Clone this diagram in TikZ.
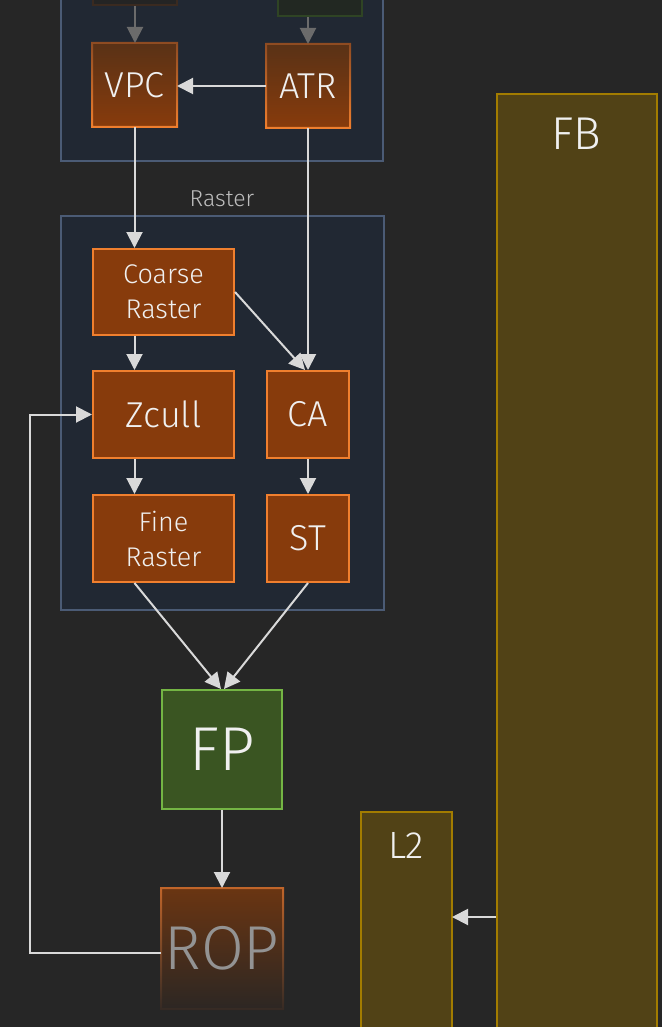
\documentclass[tikz,border=0pt]{standalone}
\usepackage{fontspec}
\IfFontExistsTF{Fira Sans Light}{\setmainfont{Fira Sans Light}}{\setmainfont{Fira Sans}}
\usetikzlibrary{arrows.meta,calc}
\definecolor{bg}{HTML}{262626}
\definecolor{clfill}{HTML}{212833}
\definecolor{cldraw}{HTML}{4B5B75}
\definecolor{orfill}{HTML}{873B0C}
\definecolor{ordraw}{HTML}{F07F2E}
\definecolor{ortop}{HTML}{5A3216}
\definecolor{ordrawtop}{HTML}{8E4B22}
\definecolor{fpfill}{HTML}{3A5522}
\definecolor{fpdraw}{HTML}{74B544}
\definecolor{memfill}{HTML}{514216}
\definecolor{memdraw}{HTML}{A27C00}
\definecolor{arrowc}{HTML}{D9D9D9}
\definecolor{dimarrow}{HTML}{6B6B6B}
\definecolor{txt}{HTML}{F0F0F0}
\definecolor{labtxt}{HTML}{BDBDBD}
\definecolor{roptop}{HTML}{6A3512}
\definecolor{ropbot}{HTML}{2D2723}
\definecolor{ropdrawtop}{HTML}{C0652A}
\definecolor{ropdrawbot}{HTML}{352A24}
\definecolor{roptxt}{HTML}{939393}
\definecolor{fadeordraw}{HTML}{3A2A20}
\definecolor{fadeorfill}{HTML}{242424}
\definecolor{fadegrdraw}{HTML}{2F4424}
\definecolor{fadegrfill}{HTML}{222822}
\begin{document}
\begin{tikzpicture}[x=1pt,y=-1pt,
  box/.style={rectangle, inner sep=0pt, line width=2pt, text=txt, align=center},
  orbox/.style={box, draw=ordraw, fill=orfill},
  cluster/.style={draw=cldraw, fill=clfill, line width=2pt},
  mem/.style={draw=memdraw, fill=memfill, line width=2pt},
  arr/.style={draw=arrowc, line width=2pt, -{Triangle[length=16pt,width=16pt]}},
  dimarr/.style={draw=dimarrow, line width=2pt, -{Triangle[length=16pt,width=16pt]}},
  big/.style={font=\fontsize{36}{40}\selectfont},
  two/.style={font=\fontsize{27}{35}\selectfont},
  huge/.style={font=\fontsize{62}{66}\selectfont}]
\useasboundingbox (0,0) rectangle (662,1027);
\fill[bg] (0,0) rectangle (662,1027);
\clip (0,0) rectangle (662,1027);

% clusters
\draw[cluster] (61,-20) rectangle (383,161);
\draw[cluster] (61,216) rectangle (384,610);
\node[text=labtxt, font=\fontsize{23}{26}\selectfont] (rasterlab) at (222,199) {Raster};

% faded boxes above
\draw[draw=fadeordraw, fill=fadeorfill, line width=2pt] (93,-60) rectangle (177,5);
\draw[draw=fadegrdraw, fill=fadegrfill, line width=2pt] (278,-60) rectangle (362,16);
\coordinate (topl) at (135,6);
\coordinate (topr) at (308,17);

% memory
\draw[mem] (361,812) rectangle (452,1060);
\draw[mem] (497,94) rectangle (657,1060);
\coordinate (L2east) at (452,917);
\coordinate (FBwest) at (496,917);
\node[text=txt, font=\fontsize{38}{40}\selectfont] (l2lab) at (406,845) {L2};
\node[text=txt, font=\fontsize{46}{50}\selectfont] (fblab) at (576.5,134) {FB};

% top nodes with gradient
\node[box, minimum width=83pt, minimum height=82pt, top color=ortop, bottom color=orfill] (VPC) at (134.5,85) {};
\node[box, minimum width=82pt, minimum height=82pt, top color=ortop, bottom color=orfill] (ATR) at (308,86) {};
\foreach \n in {VPC,ATR}{
  \shade[top color=ordrawtop, bottom color=ordraw, even odd rule]
    ($(\n.south west)+(-1,1)$) rectangle ($(\n.north east)+(1,-1)$)
    ($(\n.south west)+(1,-1)$) rectangle ($(\n.north east)+(-1,1)$);
}
\node[text=txt, big] at (VPC) {VPC};
\node[text=txt, big] at (ATR) {ATR};

% raster nodes
\node[orbox, two, minimum width=141pt, minimum height=86pt] (CR) at (163.5,292) {Coarse\\Raster};
\node[orbox, big, minimum width=141pt, minimum height=87pt] (ZC) at (163.5,414.5) {Zcull};
\node[orbox, big, minimum width=82pt, minimum height=87pt] (CA) at (308,414.5) {CA};
\node[orbox, two, minimum width=141pt, minimum height=87pt] (FR) at (163.5,538.5) {Fine\\Raster};
\node[orbox, big, minimum width=82pt, minimum height=87pt] (ST) at (308,538.5) {ST};

% FP
\node[box, huge, draw=fpdraw, fill=fpfill, minimum width=120pt, minimum height=119pt] (FP) at (222,749.5) {FP};

% ROP
\node[box, minimum width=120pt, minimum height=119pt, top color=roptop, bottom color=ropbot] (ROP) at (222,948.5) {};
\shade[top color=ropdrawtop, bottom color=ropdrawbot, even odd rule]
  ($(ROP.south west)+(-1,1)$) rectangle ($(ROP.north east)+(1,-1)$)
  ($(ROP.south west)+(1,-1)$) rectangle ($(ROP.north east)+(-1,1)$);
\node[text=roptxt, huge] at (ROP) {ROP};

% arrows
\draw[dimarr] (topl) -- (topl |- VPC.north);
\draw[dimarr] (topr) -- (topr |- ATR.north);
\draw[arr] (ATR.west) -- (ATR.west -| VPC.east);
\draw[arr] (VPC.south) -- (VPC.south |- CR.north);
\draw[arr] (ATR.south) -- (ATR.south |- CA.north);
\draw[arr] (CR.east) -- ($(CA.north)+(-3,0)$);
\draw[arr] (VPC.south |- CR.south) -- (VPC.south |- ZC.north);
\draw[arr] (VPC.south |- ZC.south) -- (VPC.south |- FR.north);
\draw[arr] (CA.south) -- (ST.north);
\draw[arr] (VPC.south |- FR.south) -- ($(FP.north)+(-1,0)$);
\draw[arr] (ST.south) -- ($(FP.north)+(2,0)$);
\draw[arr] (FP.south) -- (ROP.north);
\draw[arr] ($(ROP.west)+(0,4)$) -- ++(-131,0) |- (ZC.west);
\draw[arr] (FBwest) -- (L2east);
\end{tikzpicture}
\end{document}
